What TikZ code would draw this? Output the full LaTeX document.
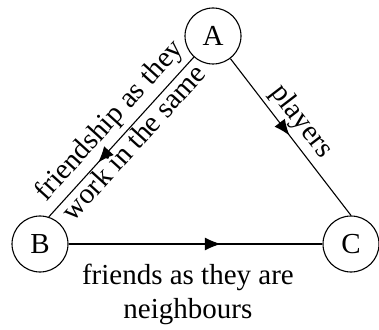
\documentclass[tikz,border=0pt]{standalone}
\usepackage{fontspec}
\setmainfont{Liberation Serif}
\usetikzlibrary{arrows.meta,decorations.markings}

\tikzset{
  midarrow/.style={postaction={decorate},
    decoration={markings, mark=at position #1 with {\arrow{>}}}},
}

\begin{document}
\begin{tikzpicture}[x=1pt, y=1pt, line width=1.1pt, >={Latex[length=16pt,width=13pt]},
  every node/.style={font=\fontsize{29}{34}\selectfont},
  vertex/.style={draw, circle, minimum size=56pt, inner sep=0pt},
  edgelabel/.style={inner sep=0pt, align=center}]
\useasboundingbox (0,0) rectangle (379,329);
\node[vertex] (A) at (213,293) {A};
\node[vertex] (B) at (40,85) {B};
\node[vertex] (C) at (351,85) {C};
\draw[midarrow=0.66] (A) -- (B.72) node[edgelabel, pos=0.48, sloped, yshift=5pt] {friendship as they\\work in the same};
\draw[midarrow=0.49] (A) -- (C.north) node[edgelabel, pos=0.47, sloped, above=4pt] {players};
\draw[midarrow=0.6] (B) -- (C) node[edgelabel, pos=0.47, below=20pt] {friends as they are\\neighbours};
\end{tikzpicture}
\end{document}
